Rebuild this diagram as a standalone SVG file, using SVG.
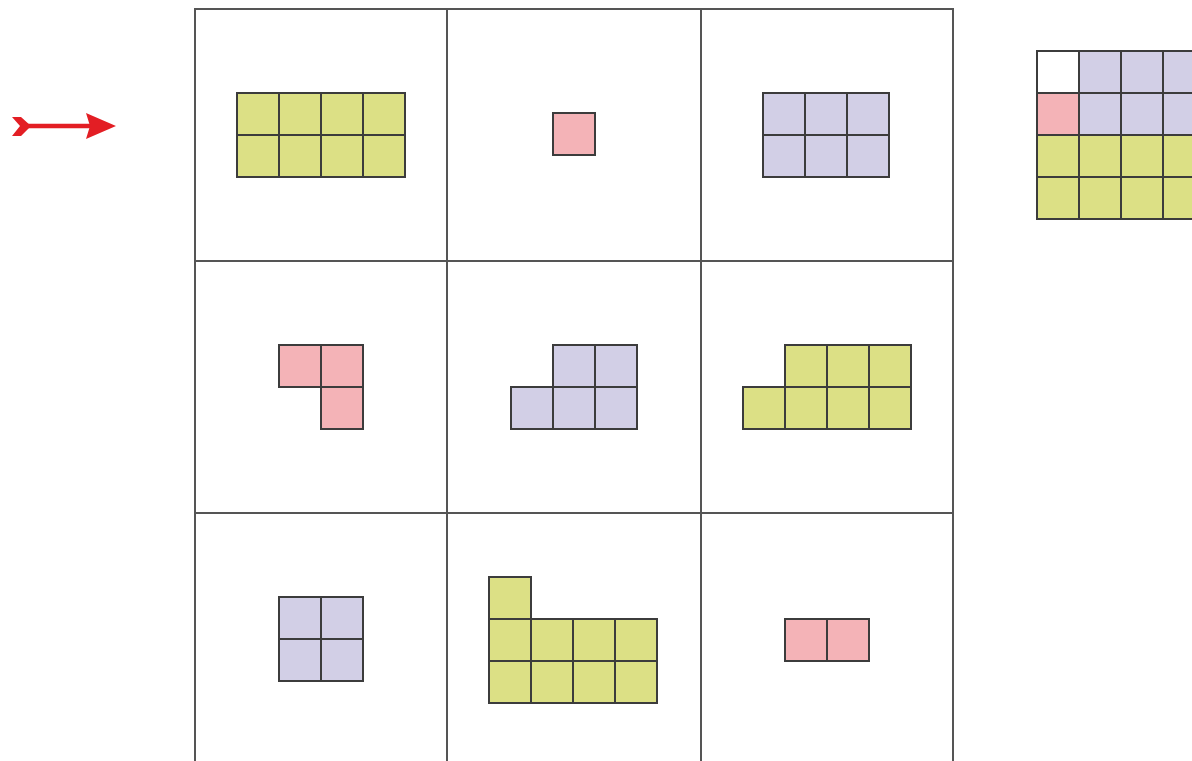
<svg xmlns="http://www.w3.org/2000/svg" width="1192" height="761" viewBox="0 0 1192 761">
<style>
.g{fill:#dce085}.p{fill:#d2cfe6}.k{fill:#f4b3b7}.w{fill:#ffffff}
.c{stroke:#3c3c3c;stroke-width:2}
.grid line{stroke:#555;stroke-width:2}
</style>
<defs>
<rect id="G" class="c g" width="42" height="42"/>
<rect id="P" class="c p" width="42" height="42"/>
<rect id="K" class="c k" width="42" height="42"/>
<rect id="W" class="c w" width="42" height="42"/>
</defs>
<rect width="1192" height="761" fill="#fff"/>
<g id="grid" class="grid">
<line x1="195" y1="9" x2="953" y2="9"/>
<line x1="195" y1="261" x2="953" y2="261"/>
<line x1="195" y1="513" x2="953" y2="513"/>
<line x1="195" y1="8" x2="195" y2="761"/>
<line x1="447" y1="8" x2="447" y2="761"/>
<line x1="701" y1="8" x2="701" y2="761"/>
<line x1="953" y1="8" x2="953" y2="761"/>
</g>
<g id="arrow">
<line x1="26" y1="126" x2="92" y2="126" stroke="#e31e24" stroke-width="4.5"/>
<polygon points="86,113 116,126 86,139 90,126" fill="#e31e24"/>
<polygon points="12,117 21,117 31,126 21,136 12,136 20,126" fill="#e31e24"/>
</g>
<g id="c00">
<use href="#G" x="237" y="93"/><use href="#G" x="279" y="93"/><use href="#G" x="321" y="93"/><use href="#G" x="363" y="93"/>
<use href="#G" x="237" y="135"/><use href="#G" x="279" y="135"/><use href="#G" x="321" y="135"/><use href="#G" x="363" y="135"/>
</g>
<g id="c01"><use href="#K" x="553" y="113"/></g>
<g id="c02">
<use href="#P" x="763" y="93"/><use href="#P" x="805" y="93"/><use href="#P" x="847" y="93"/>
<use href="#P" x="763" y="135"/><use href="#P" x="805" y="135"/><use href="#P" x="847" y="135"/>
</g>
<g id="target">
<use href="#W" x="1037" y="51"/><use href="#P" x="1079" y="51"/><use href="#P" x="1121" y="51"/><use href="#P" x="1163" y="51"/>
<use href="#K" x="1037" y="93"/><use href="#P" x="1079" y="93"/><use href="#P" x="1121" y="93"/><use href="#P" x="1163" y="93"/>
<use href="#G" x="1037" y="135"/><use href="#G" x="1079" y="135"/><use href="#G" x="1121" y="135"/><use href="#G" x="1163" y="135"/>
<use href="#G" x="1037" y="177"/><use href="#G" x="1079" y="177"/><use href="#G" x="1121" y="177"/><use href="#G" x="1163" y="177"/>
</g>
<g id="c10">
<use href="#K" x="279" y="345"/><use href="#K" x="321" y="345"/><use href="#K" x="321" y="387"/>
</g>
<g id="c11">
<use href="#P" x="553" y="345"/><use href="#P" x="595" y="345"/>
<use href="#P" x="511" y="387"/><use href="#P" x="553" y="387"/><use href="#P" x="595" y="387"/>
</g>
<g id="c12">
<use href="#G" x="785" y="345"/><use href="#G" x="827" y="345"/><use href="#G" x="869" y="345"/>
<use href="#G" x="743" y="387"/><use href="#G" x="785" y="387"/><use href="#G" x="827" y="387"/><use href="#G" x="869" y="387"/>
</g>
<g id="c20">
<use href="#P" x="279" y="597"/><use href="#P" x="321" y="597"/>
<use href="#P" x="279" y="639"/><use href="#P" x="321" y="639"/>
</g>
<g id="c21">
<use href="#G" x="489" y="577"/>
<use href="#G" x="489" y="619"/><use href="#G" x="531" y="619"/><use href="#G" x="573" y="619"/><use href="#G" x="615" y="619"/>
<use href="#G" x="489" y="661"/><use href="#G" x="531" y="661"/><use href="#G" x="573" y="661"/><use href="#G" x="615" y="661"/>
</g>
<g id="c22">
<use href="#K" x="785" y="619"/><use href="#K" x="827" y="619"/>
</g>
</svg>
